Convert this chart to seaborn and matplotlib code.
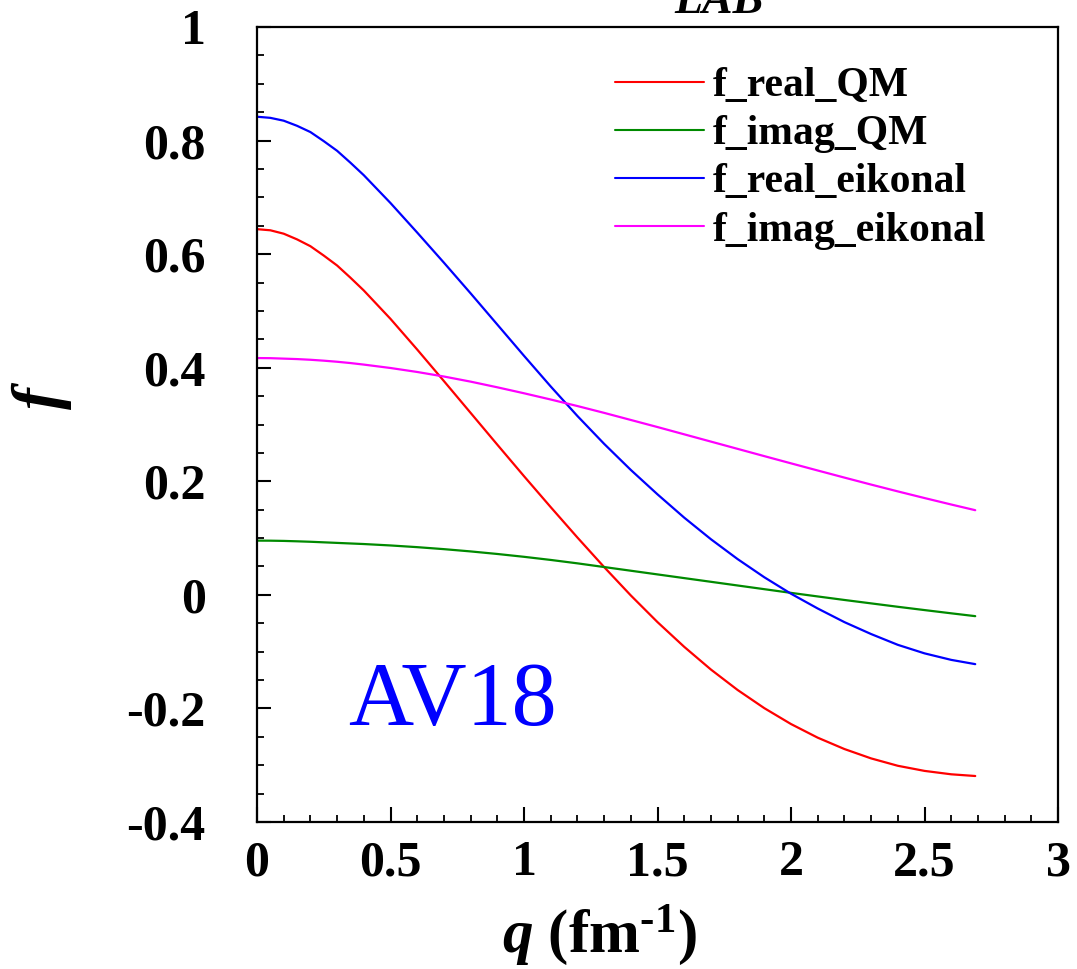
import matplotlib
matplotlib.use("Agg")
import matplotlib.pyplot as plt
from matplotlib.ticker import MultipleLocator
import pandas as pd
import seaborn as sns

# momentum transfer grid (fm^-1); denser where the curves bend near q = 0
q = [0.0, 0.05, 0.1, 0.15, 0.2, 0.25, 0.3, 0.35, 0.4, 0.5, 0.6, 0.7, 0.8,
     0.9, 1.0, 1.1, 1.2, 1.3, 1.4, 1.5, 1.6, 1.7, 1.8, 1.9, 2.0, 2.1, 2.2,
     2.3, 2.4, 2.5, 2.6, 2.69]

f_real_QM = [0.644, 0.642, 0.636, 0.626, 0.614, 0.5975, 0.580, 0.5585,
             0.536, 0.486, 0.432, 0.3765, 0.3205, 0.2645, 0.209, 0.1545,
             0.101, 0.049, -0.001, -0.048, -0.0915, -0.1315, -0.1675,
             -0.1995, -0.2275, -0.2515, -0.2715, -0.288, -0.301, -0.310,
             -0.316, -0.319]

f_imag_QM = [0.0955, 0.0954, 0.095, 0.0943, 0.0935, 0.0925, 0.0915, 0.0905,
             0.0895, 0.087, 0.084, 0.0805, 0.0765, 0.072, 0.067, 0.0615,
             0.0555, 0.049, 0.0425, 0.036, 0.0295, 0.023, 0.0165, 0.010,
             0.0035, -0.0028, -0.009, -0.015, -0.021, -0.0268, -0.0325,
             -0.0375]

f_real_eikonal = [0.842, 0.840, 0.835, 0.826, 0.815, 0.799, 0.782, 0.761,
                  0.739, 0.690, 0.638, 0.585, 0.531, 0.476, 0.421, 0.367,
                  0.315, 0.266, 0.220, 0.177, 0.136, 0.098, 0.063, 0.031,
                  0.002, -0.024, -0.048, -0.069, -0.088, -0.103, -0.1145,
                  -0.122]

f_imag_eikonal = [0.417, 0.4168, 0.416, 0.4152, 0.414, 0.4124, 0.4105,
                  0.4082, 0.4055, 0.3995, 0.3925, 0.3845, 0.3755, 0.3655,
                  0.355, 0.344, 0.3325, 0.3205, 0.308, 0.2955, 0.2827,
                  0.2699, 0.2571, 0.2443, 0.2316, 0.219, 0.2065, 0.1942,
                  0.1822, 0.1705, 0.1591, 0.1491]

series_names = ["f_real_QM", "f_imag_QM", "f_real_eikonal", "f_imag_eikonal"]
series_values = [f_real_QM, f_imag_QM, f_real_eikonal, f_imag_eikonal]
series_colors = ["#ff0000", "#008a00", "#0000ff", "#ff00ff"]

x_ticks = [0, 0.5, 1, 1.5, 2, 2.5, 3]
x_tick_labels = ["0", "0.5", "1", "1.5", "2", "2.5", "3"]
y_ticks = [-0.4, -0.2, 0, 0.2, 0.4, 0.6, 0.8, 1]
y_tick_labels = ["-0.4", "-0.2", "0", "0.2", "0.4", "0.6", "0.8", "1"]

sns.set_style("ticks")
plt.rcParams["font.family"] = ["Liberation Serif", "DejaVu Serif"]
plt.rcParams["text.color"] = "black"
plt.rcParams["axes.labelcolor"] = "black"
plt.rcParams["xtick.color"] = "black"
plt.rcParams["ytick.color"] = "black"
plt.rcParams["mathtext.fontset"] = "custom"
plt.rcParams["mathtext.rm"] = "Liberation Serif:bold"
plt.rcParams["mathtext.bf"] = "Liberation Serif:bold"
plt.rcParams["mathtext.it"] = "Liberation Serif:italic:bold"

fig = plt.figure(figsize=(10.77, 9.69), dpi=100)
ax = fig.add_axes([257 / 1077, 1 - 822 / 969, (1058 - 257) / 1077, (822 - 27) / 969])

for name, vals, col in zip(series_names, series_values, series_colors):
    df = pd.DataFrame({"q": q, "f": vals})
    sns.lineplot(data=df, x="q", y="f", color=col, linewidth=1.6, label=name,
                 ax=ax, sort=True)

ax.set_xlim(0, 3)
ax.set_ylim(-0.4, 1.0)
ax.set_xticks(x_ticks)
ax.set_xticklabels(x_tick_labels)
ax.set_yticks(y_ticks)
ax.set_yticklabels(y_tick_labels)
ax.xaxis.set_minor_locator(MultipleLocator(0.1))
ax.yaxis.set_minor_locator(MultipleLocator(0.05))

for s in ax.spines.values():
    s.set_color("black")
    s.set_linewidth(1.6)

ax.tick_params(axis="both", which="both", direction="in", color="black",
               labelcolor="black", top=False, right=False)
ax.tick_params(axis="y", which="major", length=10, width=1.5, pad=37,
               labelsize=36)
ax.tick_params(axis="x", which="major", length=11, width=1.5, pad=13,
               labelsize=36)
ax.tick_params(axis="both", which="minor", length=5, width=1.3)
for lab in ax.get_xticklabels() + ax.get_yticklabels():
    lab.set_fontweight("bold")

ax.set_xlabel("")
ax.set_ylabel("")

# axis titles
fig.text(599 / 1077, 1 - 952 / 969, r"$q$ (fm$^{\text{-1}}$)", fontsize=44,
         fontweight="bold", ha="center", va="baseline")
fig.text(42 / 1077, 1 - 395 / 969, r"$f$", fontsize=47, rotation=90,
         ha="center", va="center")

# model label
ax.text(0.34, -0.229, "AV18", fontsize=65, color="#0000ff",
        ha="left", va="baseline")

# top heading, partly outside the canvas
fig.text(719 / 1077, 1 - 13 / 969, "LAB", fontsize=33, fontweight="bold",
         fontstyle="italic", ha="center", va="baseline")

leg = ax.legend(loc="upper left", bbox_to_anchor=(615 / 1077, 1 - 67 / 969),
                bbox_transform=fig.transFigure, frameon=False,
                prop={"weight": "bold", "size": 30}, handlelength=2.13,
                handletextpad=0.22, labelspacing=0.24, borderpad=0,
                borderaxespad=0)
for h in leg.get_lines():
    h.set_linewidth(1.5)

fig.savefig("out.png", dpi=100)
